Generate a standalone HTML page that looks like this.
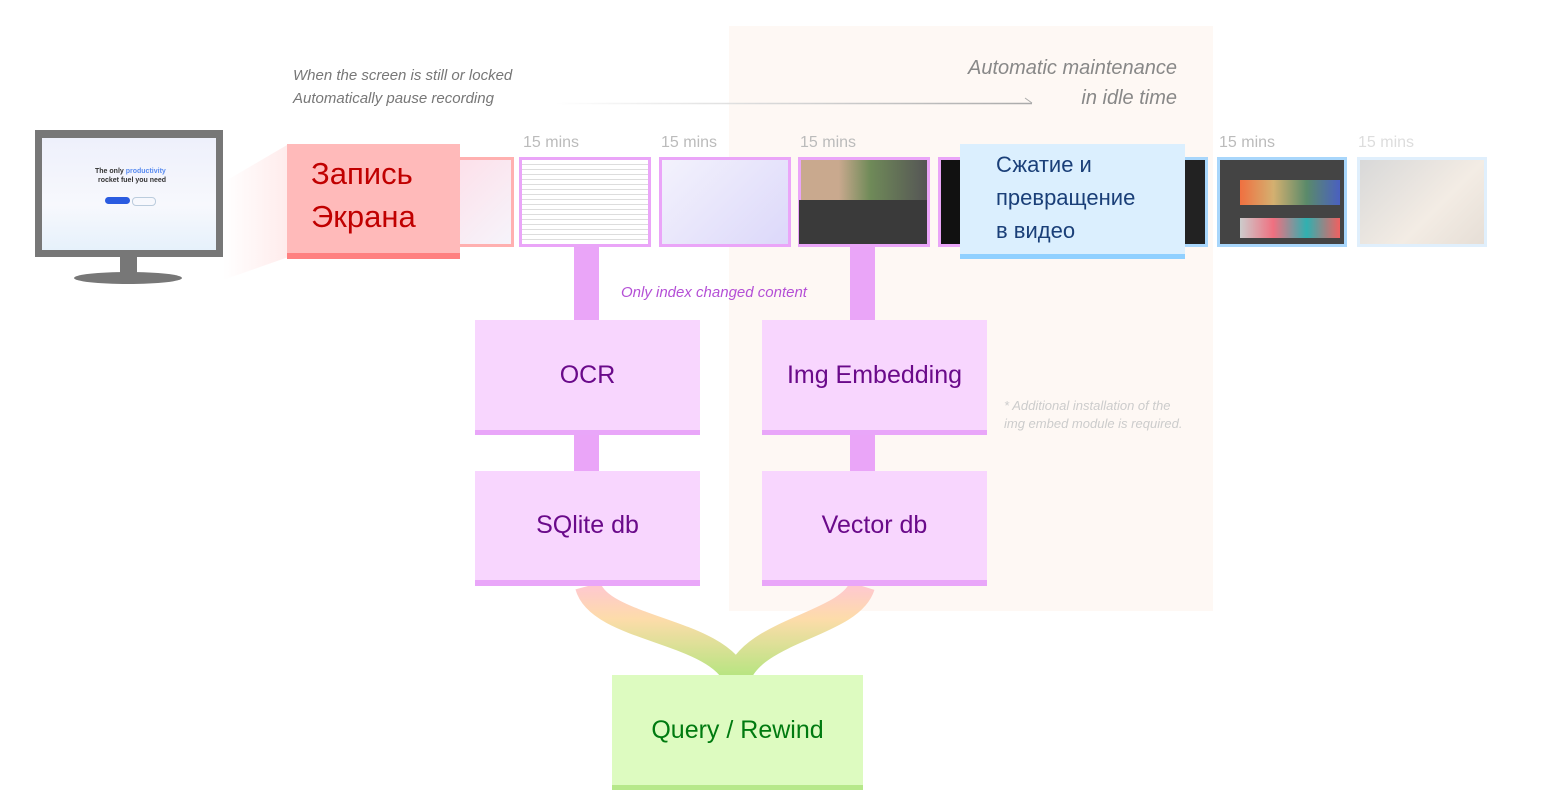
<!DOCTYPE html>
<html><head><meta charset="utf-8"><style>
body{margin:0;width:1541px;height:804px;background:#fff;position:relative;overflow:hidden;font-family:"Liberation Sans","DejaVu Sans",sans-serif}
.a{position:absolute}
.t{position:absolute;white-space:nowrap}
.box{position:absolute;display:flex;align-items:center;justify-content:center}
.m{color:#bbb;font-size:16px}
.th{position:absolute;top:157px;height:84px;border:3px solid #eaa5f8;box-sizing:content-box}
</style></head><body>
<div class="a" style="left:729px;top:26px;width:484px;height:585px;background:#fef8f4"></div>

<!-- monitor -->
<div class="a" style="left:35px;top:130px;width:188px;height:127px;background:#777"></div>
<div class="a" style="left:42px;top:138px;width:174px;height:112px;background:linear-gradient(180deg,#eef0fb,#f7f8fd 60%,#e6f1fb)"></div>
<div class="t" style="left:95px;top:168px;font-size:7px;font-weight:bold;color:#333">The only <span style="color:#5a8cf0">productivity</span></div>
<div class="t" style="left:98px;top:177px;font-size:7px;font-weight:bold;color:#333">rocket fuel you need</div>
<div class="a" style="left:105px;top:197px;width:25px;height:7px;border-radius:4px;background:#2a5be0"></div>
<div class="a" style="left:132px;top:197px;width:22px;height:7px;border-radius:4px;border:1px solid #bcd"></div>
<div class="a" style="left:120px;top:257px;width:17px;height:18px;background:#777"></div>
<div class="a" style="left:74px;top:272px;width:108px;height:12px;border-radius:50%;background:#777"></div>
<div class="a" style="left:223px;top:130px;width:64px;height:150px;background:linear-gradient(90deg,rgba(255,255,255,1),rgba(255,200,200,.35));clip-path:polygon(0 35%,100% 10%,100% 85%,0 100%)"></div>

<!-- labels top -->
<div class="t" style="left:293px;top:67px;font-size:15px;font-style:italic;color:#777">When the screen is still or locked</div>
<div class="t" style="left:293px;top:90px;font-size:15px;font-style:italic;color:#777">Automatically pause recording</div>
<div class="t" style="right:364px;top:57px;font-size:20px;font-style:italic;color:#888">Automatic maintenance</div>
<div class="t" style="right:364px;top:87px;font-size:20px;font-style:italic;color:#888">in idle time</div>
<svg class="a" style="left:0;top:0" width="1541" height="804">
<defs><linearGradient id="lg" gradientUnits="userSpaceOnUse" x1="555" y1="0" x2="1032" y2="0"><stop offset="0" stop-color="#fff"/><stop offset="1" stop-color="#aaa"/></linearGradient>
<linearGradient id="br" gradientUnits="userSpaceOnUse" x1="0" y1="586" x2="0" y2="680"><stop offset="0" stop-color="#ffc8d0"/><stop offset=".35" stop-color="#fddcaa"/><stop offset="1" stop-color="#b2e57e"/></linearGradient></defs>
<line x1="555" y1="103.5" x2="1032" y2="103.5" stroke="url(#lg)" stroke-width="1.5"/>
<polyline points="1025,98 1032,103" fill="none" stroke="#aaa" stroke-width="1"/>
<path d="M588,586 C600,630 720,630 737,680" fill="none" stroke="url(#br)" stroke-width="26"/>
<path d="M862,586 C850,625 750,630 737,680" fill="none" stroke="url(#br)" stroke-width="26"/>
</svg>

<!-- time labels -->
<div class="t m" style="left:523px;top:134px">15 mins</div>
<div class="t m" style="left:661px;top:134px">15 mins</div>
<div class="t m" style="left:800px;top:134px">15 mins</div>
<div class="t m" style="left:1219px;top:134px">15 mins</div>
<div class="t m" style="left:1358px;top:134px;color:#ddd">15 mins</div>

<!-- thumbnails -->
<div class="th" style="left:455px;width:53px;border-color:#ffb0b0;background:linear-gradient(135deg,#fde0ea,#f6f4fb)"></div>
<div class="th" style="left:519px;width:126px;background:repeating-linear-gradient(180deg,#fff 0 4px,#ddd 4px 5px)"></div>
<div class="th" style="left:659px;width:126px;background:linear-gradient(135deg,#f3f2fc,#dcd8fa)"></div>
<div class="th" style="left:798px;width:126px;background:linear-gradient(90deg,#c9a98e 0,#c9a98e 30%,#6f8a58 55%,#555 100%)"></div>
<div class="a" style="left:799px;top:200px;width:128px;height:44px;background:#3a3a3a"></div>
<div class="th" style="left:938px;width:20px;background:#111"></div>
<div class="th" style="left:1182px;width:20px;border-color:#a8d6fb;background:#222"></div>
<div class="th" style="left:1217px;width:124px;border-color:#a8d6fb;background:#444"></div>
<div class="a" style="left:1240px;top:180px;width:100px;height:25px;background:linear-gradient(90deg,#f07040,#d4b070,#5a8a6a,#4a60c0)"></div>
<div class="a" style="left:1240px;top:218px;width:100px;height:20px;background:linear-gradient(90deg,#ccc,#f07080,#30b0b0,#f06060)"></div>
<div class="th" style="left:1357px;width:124px;border-color:#e0effc;background:linear-gradient(135deg,#d8d8d8,#f3ece4 60%,#e6ded6)"></div>

<!-- record box -->
<div class="a" style="left:287px;top:144px;width:173px;height:109px;background:#ffbaba;border-bottom:6px solid #ff8080"></div>
<div class="t" style="left:311px;top:152px;font-size:31px;color:#c00000;line-height:43px">Запись<br>Экрана</div>

<!-- blue box -->
<div class="a" style="left:960px;top:144px;width:225px;height:110px;background:#dbeffe;border-bottom:5px solid #90d0ff"></div>
<div class="t" style="left:996px;top:148px;font-size:22px;color:#1a3f78;line-height:33px">Сжатие и<br>превращение<br>в видео</div>

<!-- connectors -->
<div class="a" style="left:574px;top:245px;width:25px;height:75px;background:#eaa5f8"></div>
<div class="a" style="left:850px;top:245px;width:25px;height:75px;background:#eaa5f8"></div>
<div class="a" style="left:574px;top:435px;width:25px;height:36px;background:#eaa5f8"></div>
<div class="a" style="left:850px;top:435px;width:25px;height:36px;background:#eaa5f8"></div>
<div class="t" style="left:621px;top:284px;font-size:15px;font-style:italic;color:#b44fd6">Only index changed content</div>

<div class="box" style="left:475px;top:320px;width:225px;height:110px;background:#f8d6fe;border-bottom:5px solid #e9a6f9;font-size:25px;color:#6a0a8a">OCR</div>
<div class="box" style="left:762px;top:320px;width:225px;height:110px;background:#f8d6fe;border-bottom:5px solid #e9a6f9;font-size:25px;color:#6a0a8a">Img Embedding</div>
<div class="box" style="left:475px;top:471px;width:225px;height:109px;background:#f8d6fe;border-bottom:6px solid #e9a6f9;font-size:25px;color:#6a0a8a">SQlite db</div>
<div class="box" style="left:762px;top:471px;width:225px;height:109px;background:#f8d6fe;border-bottom:6px solid #e9a6f9;font-size:25px;color:#6a0a8a">Vector db</div>
<div class="t" style="left:1004px;top:397px;font-size:13px;font-style:italic;color:#ccc;line-height:18px">* Additional installation of the<br>img embed module is required.</div>

<div class="box" style="left:612px;top:675px;width:251px;height:110px;background:#ddfbc0;border-bottom:5px solid #b6e88a;font-size:25px;color:#007a10">Query / Rewind</div>
</body></html>
